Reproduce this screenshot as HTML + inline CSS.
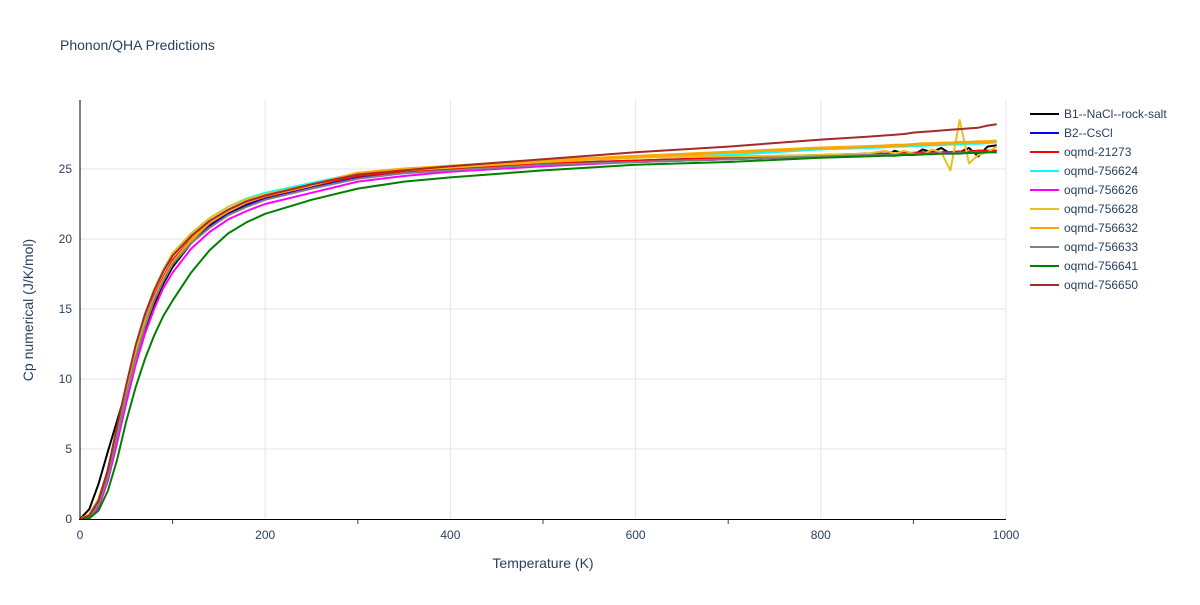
<!DOCTYPE html>
<html><head><meta charset="utf-8"><style>
body{margin:0;background:#fff;font-family:"Liberation Sans",sans-serif;}
svg text{font-family:"Liberation Sans",sans-serif;fill:#2a3f5f;}
</style></head><body>
<svg id="chart" width="1200" height="600" xmlns="http://www.w3.org/2000/svg">
<text x="60" y="50" font-size="14">Phonon/QHA Predictions</text>
<g id="grid"></g><g id="series"></g><g id="axes"></g><g id="legend"></g>
<text x="543" y="568" font-size="14" text-anchor="middle">Temperature (K)</text>
<text transform="translate(33,310) rotate(-90)" font-size="14" text-anchor="middle">Cp numerical (J/K/mol)</text>
</svg>
<script>
const temps=[0,10,20,30,40,50,60,70,80,90,100,120,140,160,180,200,250,300,350,400,500,600,700,800,850,870,880,890,900,910,920,930,940,950,960,970,980,990];
const names=["B1--NaCl--rock-salt","B2--CsCl","oqmd-21273","oqmd-756624","oqmd-756626","oqmd-756628","oqmd-756632","oqmd-756633","oqmd-756641","oqmd-756650"];
const colors=["#000000","#0000ff","#ff0000","#00ffff","#ff00ff","#e6c21e","#ffa500","#808080","#008000","#a52a2a"];
const widths=[2,2,2,2,2,2,3,2,2,2];
const sB1=[0,0.7,2.5,4.8,7.0,9.2,11.4,13.4,15.3,16.8,18.0,19.7,20.9,21.8,22.4,22.9,23.7,24.5,24.8,25.0,25.3,25.5,25.7,25.9,26.1,26.0,26.3,26.1,26.0,26.4,26.2,26.5,26.1,26.2,26.5,25.9,26.6,26.7];
const sB2=[0,0.15,1.0,3.0,5.9,8.9,11.6,13.9,15.7,17.2,18.3,19.9,21.0,21.9,22.5,22.9,23.7,24.4,24.8,25.0,25.4,25.6,25.8,26.0,26.05,26.1,26.1,26.1,26.15,26.15,26.2,26.2,26.2,26.25,26.25,26.3,26.3,26.3];
const s21273=[0,0.15,1.1,3.2,6.2,9.2,11.9,14.1,15.9,17.3,18.5,20.0,21.1,22.0,22.6,23.0,23.8,24.5,24.8,25.0,25.4,25.6,25.8,26.0,26.1,26.1,26.1,26.15,26.15,26.2,26.2,26.2,26.2,26.25,26.25,26.3,26.3,26.3];
const s756624=[0,0.15,1.1,3.3,6.4,9.4,12.2,14.5,16.3,17.7,18.9,20.4,21.5,22.3,22.9,23.3,24.0,24.7,25.0,25.2,25.5,25.8,26.0,26.4,26.5,26.55,26.6,26.6,26.65,26.65,26.7,26.7,26.75,26.75,26.8,26.8,26.85,26.9];
const s756626=[0,0.1,0.8,2.7,5.4,8.3,11.0,13.2,15.0,16.5,17.6,19.3,20.5,21.4,22.0,22.5,23.3,24.1,24.5,24.8,25.2,25.5,25.7,25.9,26.0,26.0,26.05,26.05,26.1,26.1,26.1,26.15,26.15,26.15,26.2,26.2,26.2,26.2];
const s756628=[0,0.18,1.2,3.4,6.5,9.5,12.3,14.6,16.4,17.8,19.0,20.4,21.5,22.3,22.85,23.2,23.9,24.6,24.9,25.1,25.5,25.8,25.9,26.0,26.1,26.3,26.1,26.3,26.1,26.0,26.4,26.2,24.9,28.5,25.4,26.0,26.2,26.6];
const s756632=[0,0.27,1.34,3.4,6.2,9.0,11.6,13.9,15.7,17.1,18.3,19.9,21.2,22.0,22.65,23.1,23.85,24.7,25.0,25.2,25.6,25.9,26.2,26.5,26.6,26.65,26.7,26.7,26.75,26.8,26.8,26.85,26.85,26.9,26.9,26.95,26.95,27.0];
const s756633=[0,0.15,1.0,3.0,5.9,8.8,11.5,13.7,15.6,17.0,18.2,19.7,20.8,21.7,22.3,22.8,23.6,24.3,24.7,24.9,25.3,25.5,25.7,25.9,26.0,26.0,26.0,26.05,26.05,26.1,26.1,26.1,26.1,26.15,26.15,26.15,26.2,26.2];
const s756641=[0,0.05,0.6,2.0,4.2,7.0,9.4,11.4,13.1,14.5,15.6,17.6,19.2,20.4,21.2,21.8,22.8,23.6,24.1,24.4,24.9,25.3,25.5,25.8,25.9,25.95,25.95,26.0,26.0,26.05,26.05,26.1,26.1,26.1,26.15,26.15,26.2,26.2];
const s756650=[0,0.25,1.3,3.5,6.6,9.6,12.4,14.6,16.3,17.7,18.8,20.2,21.3,22.1,22.7,23.1,23.9,24.6,24.9,25.2,25.7,26.2,26.6,27.1,27.3,27.4,27.45,27.5,27.6,27.65,27.7,27.75,27.8,27.85,27.9,27.95,28.1,28.2];
const series=[sB1,sB2,s21273,s756624,s756626,s756628,s756632,s756633,s756641,s756650];
const xTicks=[0,200,400,600,800,1000];
const yTicks=[0,5,10,15,20,25];
const NS="http://www.w3.org/2000/svg";
const X=v=>80+v*0.926, Y=v=>519-v*14;
function mk(t,a,p){const e=document.createElementNS(NS,t);for(const k in a)e.setAttribute(k,a[k]);p.appendChild(e);return e;}
const grid=document.getElementById('grid'),axes=document.getElementById('axes'),sg=document.getElementById('series'),lg=document.getElementById('legend');
xTicks.forEach(t=>{
 if(t>0){const l=mk('line',{x1:X(t),x2:X(t),y1:100,y2:519,stroke:'#e5e5e5'},grid);
 
 }
 const tx=mk('text',{x:X(t),y:539,'font-size':12,'text-anchor':'middle'},axes);tx.textContent=t;
 
 
});
for(let t=100;t<=1000;t+=200){mk('line',{x1:X(t),x2:X(t),y1:519,y2:524,stroke:'#444'},axes);}
yTicks.forEach(t=>{
 if(t>0){const l=mk('line',{x1:80,x2:1006,y1:Y(t),y2:Y(t),stroke:'#e5e5e5'},grid);
 
 }
 const tx=mk('text',{x:72,y:Y(t)+4,'font-size':12,'text-anchor':'end'},axes);tx.textContent=t;
 
 
});
mk('line',{x1:80,x2:80,y1:100,y2:520,stroke:'#000'},axes);
mk('line',{x1:79,x2:1006,y1:519.5,y2:519.5,stroke:'#000'},axes);
series.forEach((s,i)=>{
 const d=s.map((v,j)=>(j?'L':'M')+X(temps[j]).toFixed(1)+','+Y(v).toFixed(1)).join('');
 const p=mk('path',{d:d,fill:'none',stroke:colors[i],'stroke-width':widths[i],'stroke-linejoin':'round'},sg);
 
 
 const y=114+i*19;
 const g=mk('g',{},lg);
 
 
 mk('line',{x1:1030,x2:1059,y1:y,y2:y,stroke:colors[i],'stroke-width':2},g);
 const t=mk('text',{x:1064,y:y+4,'font-size':12},g);t.textContent=names[i];
});
</script>
</body></html>
